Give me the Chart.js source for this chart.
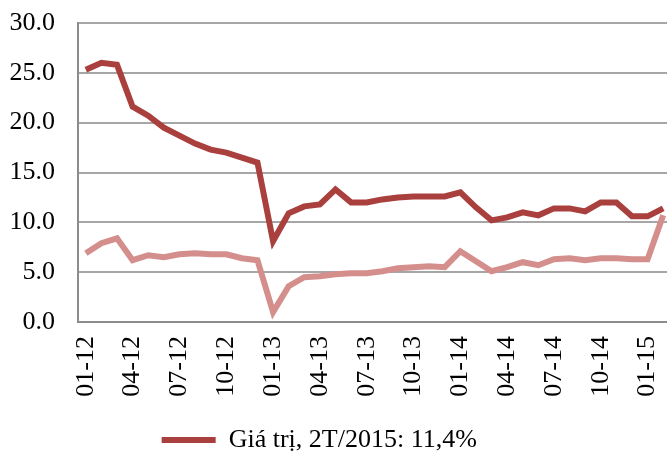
<!DOCTYPE html>
<html lang="vi">
<head>
  <meta charset="UTF-8">
  <title>Giá trị</title>
  <script src="https://cdn.jsdelivr.net/npm/chart.js"></script>
  <style>
    html, body { margin: 0; padding: 0; background: #fff; overflow: hidden; width: 667px; height: 454px; }
    canvas { display: block; }
  </style>
</head>
<body>
  <canvas id="chart" width="684" height="463"></canvas>

  <script>
    // thang 01-12 .. 02-15
    const months = [
      "01-12","02-12","03-12","04-12","05-12","06-12","07-12","08-12","09-12","10-12","11-12","12-12",
      "01-13","02-13","03-13","04-13","05-13","06-13","07-13","08-13","09-13","10-13","11-13","12-13",
      "01-14","02-14","03-14","04-14","05-14","06-14","07-14","08-14","09-14","10-14","11-14","12-14",
      "01-15","02-15"
    ];
    const giaTri = [
      25.3, 26.0, 25.8, 21.6, 20.7, 19.5, 18.7, 17.9, 17.3, 17.0, 16.5, 16.0,
      8.1, 10.9, 11.6, 11.8, 13.3, 12.0, 12.0, 12.3, 12.5, 12.6, 12.6, 12.6,
      13.0, 11.5, 10.2, 10.5, 11.0, 10.7, 11.4, 11.4, 11.1, 12.0, 12.0, 10.6,
      10.6, 11.4
    ];
    const series2 = [
      6.9, 7.9, 8.4, 6.2, 6.7, 6.5, 6.8, 6.9, 6.8, 6.8, 6.4, 6.2,
      1.0, 3.6, 4.5, 4.6, 4.8, 4.9, 4.9, 5.1, 5.4, 5.5, 5.6, 5.5,
      7.1, 6.1, 5.1, 5.5, 6.0, 5.7, 6.3, 6.4, 6.2, 6.4, 6.4, 6.3,
      6.3, 10.7
    ];
    const yTicks = [0, 5, 10, 15, 20, 25, 30];

    const font = { family: "'Liberation Serif', 'Times New Roman', serif", size: 26 };

    new Chart(document.getElementById("chart"), {
      type: "line",
      data: {
        labels: months,
        datasets: [
          {
            label: "Giá trị, 2T/2015: 11,4%",
            data: giaTri,
            borderColor: "#A9403E",
            backgroundColor: "#A9403E",
            borderWidth: 6,
            pointRadius: 0,
            tension: 0
          },
          {
            label: "",
            data: series2,
            borderColor: "#D48F8D",
            backgroundColor: "#D48F8D",
            borderWidth: 6,
            pointRadius: 0,
            tension: 0
          }
        ]
      },
      options: {
        responsive: false,
        animation: false,
        devicePixelRatio: 1,
        layout: { padding: { top: 23, right: 13, left: 0, bottom: 0 } },
        plugins: {
          tooltip: { enabled: false },
          legend: {
            position: "bottom",
            labels: {
              font: font,
              color: "#000",
              boxWidth: 54,
              boxHeight: 6,
              padding: 10,
              filter: item => item.datasetIndex === 0,
              generateLabels: chart => {
                const items = Chart.defaults.plugins.legend.labels.generateLabels(chart);
                // khoang trong de dich chu giai sang trai
                items.forEach(it => { it.text = it.text + "     "; it.lineWidth = 0; });
                return items;
              }
            }
          }
        },
        scales: {
          x: {
            offset: true,
            grid: { display: false, drawTicks: false },
            border: { color: "#8C8C8C", width: 2 },
            ticks: {
              autoSkip: false,
              minRotation: 90,
              maxRotation: 90,
              padding: 14,
              font: font,
              color: "#000",
              callback: (v, i) => (i % 3 === 0 ? months[i] : "")
            },
            afterFit: s => { s.height = 95; s.paddingLeft = 0; s.paddingRight = 0; }
          },
          y: {
            min: 0,
            max: 30,
            afterBuildTicks: s => { s.ticks = yTicks.map(v => ({ value: v })); },
            grid: { color: "#A6A6A6", lineWidth: 2, drawTicks: false },
            border: { color: "#8C8C8C", width: 2 },
            ticks: {
              padding: 23,
              font: font,
              color: "#000",
              callback: v => v.toFixed(1)
            },
            afterFit: s => { s.width = 78; s.paddingTop = 0; s.paddingBottom = 0; }
          }
        }
      }
    });
  </script>
</body>
</html>
